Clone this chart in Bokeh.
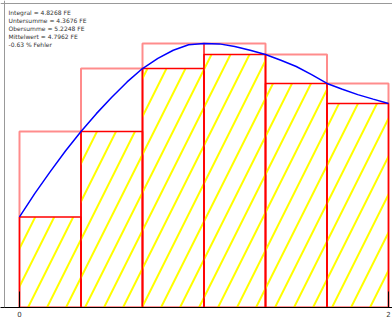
from bokeh.plotting import figure
from bokeh.models import Range1d, Label, Span, FixedTicker
from bokeh.embed import file_html
from bokeh.resources import INLINE

# ---- data ----
interval_left = [0, 1/3, 2/3, 1, 4/3, 5/3]
interval_right = [1/3, 2/3, 1, 4/3, 5/3, 2]
lower_heights = [1.000, 1.943, 2.638, 2.793, 2.473, 2.252]
upper_heights = [1.943, 2.638, 2.914, 2.914, 2.793, 2.473]

curve_x = [0, 1/12, 2/12, 3/12, 4/12, 5/12, 6/12, 7/12, 8/12, 9/12, 10/12, 11/12, 1,
           13/12, 14/12, 15/12, 16/12, 17/12, 18/12, 19/12, 20/12, 21/12, 22/12, 23/12, 2]
curve_y = [1.000, 1.26, 1.50, 1.73, 1.943, 2.14, 2.32, 2.49, 2.638, 2.75, 2.84, 2.90, 2.914,
           2.91, 2.88, 2.84, 2.793, 2.73, 2.66, 2.57, 2.473, 2.41, 2.35, 2.30, 2.252]

x_ticks = [0, 2]
info_lines = [
    "Integral = 4.8268 FE",
    "Untersumme = 4.3676 FE",
    "Obersumme = 5.2248 FE",
    "Mittelwert = 4.7962 FE",
    "-0.63 % Fehler",
]

# ---- figure ----
W, H = 392, 324
PX_X = 184.5      # pixels per x unit
PX_Y = 90.59      # pixels per y unit
x_start, x_end = -19 / PX_X, 2 + 4 / PX_X
y_start, y_end = 0.0, 307 / PX_Y

p = figure(width=W, height=H, output_backend="svg", toolbar_location=None,
           x_range=Range1d(x_start, x_end), y_range=Range1d(y_start, y_end),
           min_border_left=0, min_border_right=0, min_border_top=0, min_border_bottom=17)
p.grid.visible = False
p.yaxis.visible = False
p.outline_line_color = None
p.background_fill_color = "white"

# upper sum rectangles (lighter red outline)
p.quad(left=interval_left, right=interval_right, bottom=0, top=upper_heights,
       fill_color=None, line_color="red", line_alpha=0.45, line_width=2)
# lower sum rectangles (yellow hatch, red outline)
p.quad(left=interval_left, right=interval_right, bottom=0, top=lower_heights,
       fill_color=None, line_color="red", line_width=1.5,
       hatch_pattern="/", hatch_color="#ffff00", hatch_weight=2, hatch_scale=38)
# function curve
p.line(curve_x, curve_y, line_color="blue", line_width=1.5)

ax = p.xaxis[0]
ax.ticker = FixedTicker(ticks=x_ticks)
ax.major_tick_in = 16
ax.major_tick_out = 0
ax.minor_tick_in = 0
ax.minor_tick_out = 0
ax.axis_line_color = "black"
ax.major_tick_line_color = "black"
ax.major_label_text_font = "DejaVu Sans"
ax.major_label_text_font_size = "7px"
ax.major_label_text_color = "#333333"
ax.major_label_standoff = 3

# frame edges (top, left) in light gray
p.add_layout(Span(location=y_end - 3 / PX_Y, dimension="width", line_color="#999999", line_width=1))
p.add_layout(Span(location=x_start + 4 / PX_X, dimension="height", line_color="#999999", line_width=1))

p.add_layout(Label(x=x_start + 8 / PX_X, y=y_end - 8 / PX_Y, text="\n".join(info_lines),
                   text_font="DejaVu Sans", text_font_size="6px", text_color="#333333",
                   text_baseline="top", text_align="left", text_line_height=1.15))

open("out.html", "w").write(file_html(p, INLINE))
